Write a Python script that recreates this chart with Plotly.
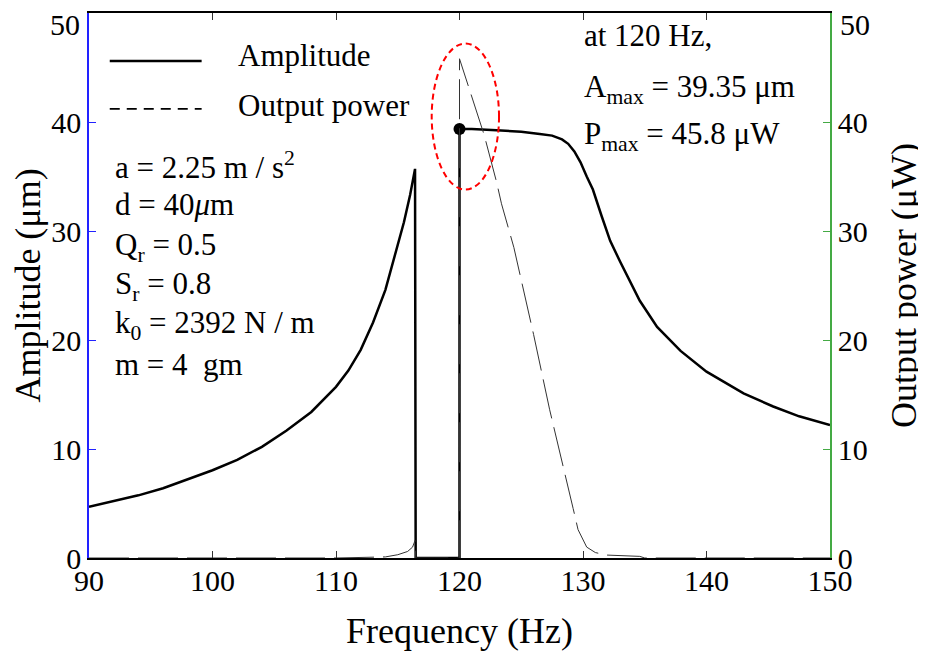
import plotly.graph_objects as go

# Amplitude (um) vs frequency (Hz)
amp_freq = [90, 92, 94, 96, 98, 100, 102, 104, 106, 108, 110, 111, 112, 113, 114, 115, 115.5, 116, 116.4,
            116.45, 118, 120, 120.001, 121, 123, 125, 126.5, 127.5, 128.3, 128.8, 129.3, 129.8, 130.3, 130.8,
            131.5, 132.2, 133, 134, 134.6, 136, 137.9, 140, 141.6, 143, 145.4, 147.5, 150]
amp_vals = [4.7, 5.2, 5.75, 6.4, 7.2, 8.05, 9.0, 10.2, 11.7, 13.4, 15.7, 17.2, 19.1, 21.6, 24.6, 28.6, 30.8, 33.3, 35.7,
            0, 0, 0, 39.35, 39.35, 39.25, 39.1, 38.9, 38.75, 38.4, 38.0, 37.3, 36.3, 35.0, 33.8,
            31.4, 29.1, 27.2, 24.9, 23.6, 21.2, 19.0, 17.1, 16.0, 15.1, 13.9, 13.0, 12.2]

# Output power (uW) vs frequency (Hz)
pow_freq = [90, 100, 110, 114, 115, 115.8, 116.2, 116.4, 116.45, 118, 120, 120.001, 120.5, 121, 121.5, 122, 123,
            123.4, 124.4, 125, 126, 127.3, 128.1, 128.7, 129.2, 129.6, 130, 130.3, 131, 131.9, 134.6, 135, 150]
pow_vals = [0, 0, 0, 0.1, 0.3, 0.6, 1.0, 1.6, 0, 0, 0, 45.8, 44.0, 42.2, 40.6, 38.8, 34.5,
            32.5, 28.5, 25.6, 20.5, 13.6, 9.9, 7.0, 4.55, 2.6, 1.6, 1.0, 0.5, 0.27, 0.15, 0, 0]

x_ticks = [90, 100, 110, 120, 130, 140, 150]
y_ticks = [0, 10, 20, 30, 40, 50]
y_ticktext = ["0", "10", "20", "30", "40", ""]   # top label drawn separately (kept inside the page)
y_top = 50

max_freq = 120
max_amp = 39.35

FONT = "Liberation Serif"

fig = go.Figure()
fig.add_trace(go.Scatter(x=amp_freq, y=amp_vals, mode="lines", line=dict(color="black", width=2.5),
                         showlegend=False, yaxis="y"))
fig.add_trace(go.Scatter(x=pow_freq, y=pow_vals, mode="lines",
                         line=dict(color="#333333", width=1, dash="40px,9px"),
                         showlegend=False, yaxis="y2"))
fig.add_trace(go.Scatter(x=[max_freq], y=[max_amp], mode="markers",
                         marker=dict(color="black", size=12), showlegend=False, yaxis="y"))

# red dashed ellipse highlighting the maximum
fig.add_shape(type="circle", xref="x", yref="y", x0=117.75, x1=123.2, y0=33.8, y1=47.2,
              line=dict(color="red", width=2, dash="6px,4px"))

# manual legend
fig.add_shape(type="line", xref="paper", yref="paper", x0=0.028, x1=0.152, y0=0.912, y1=0.912,
              line=dict(color="black", width=2.5))
fig.add_shape(type="line", xref="paper", yref="paper", x0=0.028, x1=0.152, y0=0.824, y1=0.824,
              line=dict(color="black", width=1.8, dash="10px,7px"))

def ann(text, x, y, size=31):
    fig.add_annotation(text=text, xref="paper", yref="paper", x=x, y=y, xanchor="left", yanchor="middle",
                       showarrow=False, font=dict(family=FONT, size=size, color="black"))

ann("Amplitude", 0.198, 0.922)
ann("Output power", 0.198, 0.830)

ann("a = 2.25 m / s<sup>2</sup>", 0.032, 0.720)
ann("d = 40<i>μ</i>m", 0.032, 0.648)
ann("Q<sub>r</sub> = 0.5", 0.032, 0.570)
ann("S<sub>r</sub> = 0.8", 0.032, 0.500)
ann("k<sub>0</sub> = 2392 N / m", 0.032, 0.427)
ann("m = 4  gm", 0.032, 0.355)

ann("at 120 Hz,", 0.665, 0.958)
ann("A<sub>max</sub> = 39.35 μm", 0.665, 0.860)
ann("P<sub>max</sub> = 45.8 μW", 0.665, 0.775)

# top tick labels of both y axes
fig.add_annotation(text=str(y_top), xref="paper", yref="y", x=0, y=y_top, xanchor="right", yanchor="middle",
                   xshift=-7, yshift=-11, showarrow=False, font=dict(family=FONT, size=30, color="black"))
fig.add_annotation(text=str(y_top), xref="paper", yref="y", x=1, y=y_top, xanchor="left", yanchor="middle",
                   xshift=8, yshift=-11, showarrow=False, font=dict(family=FONT, size=30, color="black"))

fig.update_layout(
    width=918, height=645,
    margin=dict(l=81, r=96, t=5, b=95),
    paper_bgcolor="white", plot_bgcolor="white",
    font=dict(family=FONT, size=30, color="black"),
    xaxis=dict(range=[90, 150], tickvals=x_ticks, ticks="inside", ticklen=7, tickcolor="#333",
               showline=True, linecolor="black", linewidth=2, mirror="ticks", showgrid=False,
               zeroline=False, automargin=False, ticklabelstandoff=-5,
               title=dict(text="Frequency (Hz)", standoff=22),
               tickfont=dict(family=FONT, size=30)),
    yaxis=dict(range=[0, 50], tickvals=y_ticks, ticktext=y_ticktext, ticks="inside", ticklen=7,
               tickcolor="#2222ff",
               showline=True, linecolor="#2222ff", linewidth=1.5, showgrid=False, zeroline=False,
               automargin=False,
               title=dict(text="Amplitude (μm)", standoff=4), tickfont=dict(family=FONT, size=30)),
    yaxis2=dict(range=[0, 50], tickvals=y_ticks, ticktext=y_ticktext, ticks="inside", ticklen=7,
                tickcolor="#44aa44",
                showline=True, linecolor="#44aa44", linewidth=1.5, showgrid=False, zeroline=False,
                automargin=False,
                overlaying="y", side="right", title=dict(text="Output power (μW)", standoff=24),
                tickfont=dict(family=FONT, size=30)),
)

fig.write_html("out.html")
